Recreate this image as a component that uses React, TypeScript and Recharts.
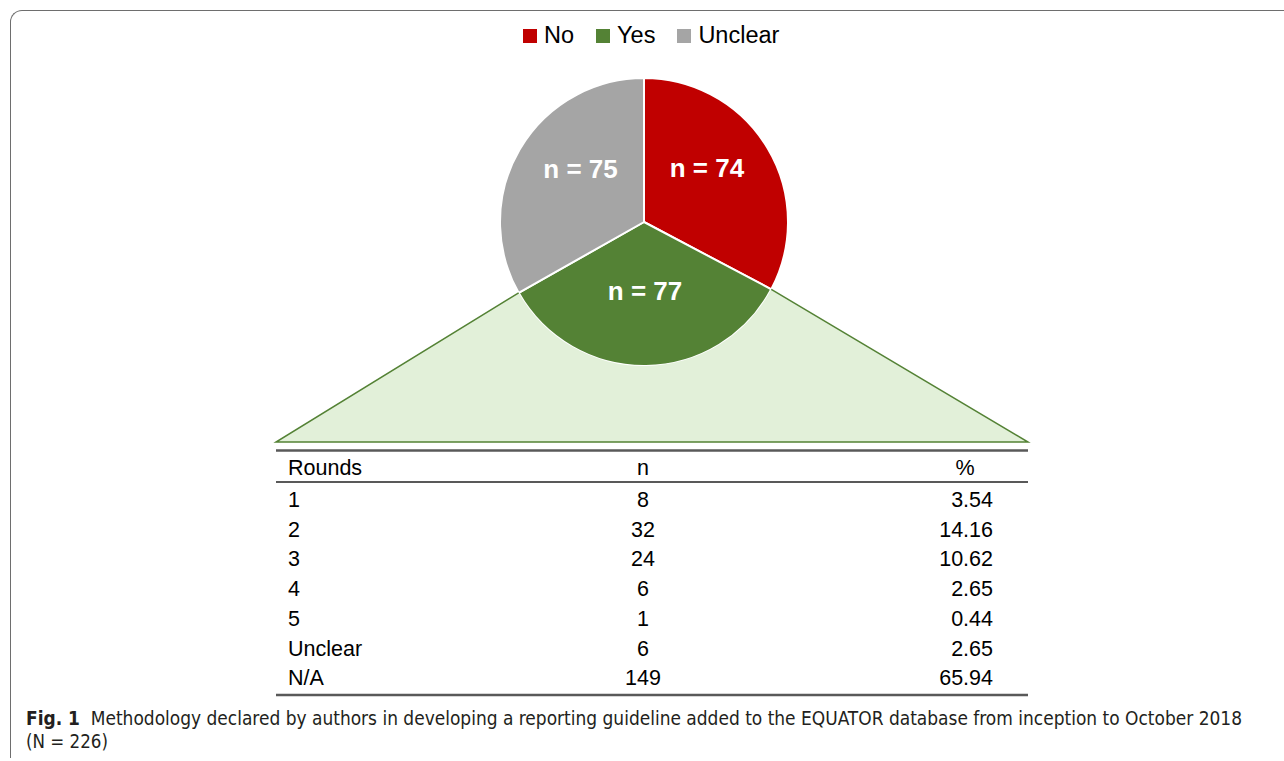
import React from 'react';
import { PieChart, Pie, Cell, Legend } from 'recharts';

// pie: methodology declared
const methodNames = ['No', 'Yes', 'Unclear'];
const methodCounts = [74, 77, 75];
const methodColors = ['#C00000', '#548235', '#A5A5A5'];

// table: number of rounds in the Delphi surveys
const tableTitle = 'Number of rounds in the Delphi surveys';
const tableHeaders = ['Rounds', 'n', '%'];
const roundLabels = ['1', '2', '3', '4', '5', 'Unclear', 'N/A'];
const roundCounts = [8, 32, 24, 6, 1, 6, 149];
const roundPercents = ['3.54', '14.16', '10.62', '2.65', '0.44', '2.65', '65.94'];

const captionBold = 'Fig. 1';
const captionText = 'Methodology declared by authors in developing a reporting guideline added to the EQUATOR database from inception to October 2018';
const captionLine2 = '(N\u00A0=\u00A0226)';

const pieData = methodNames.map((name, i) => ({ name, value: methodCounts[i] }));

const W = 1284;
const H = 761;
const TABLE_LEFT = 276;
const TABLE_RIGHT = 1028;
const WEDGE_BOTTOM = 442;
const ARIAL = '"Liberation Sans", Arial, sans-serif';
const CAPTION_FONT = '"Liberation Sans Narrow", "DejaVu Sans Condensed", "Open Sans", sans-serif';
const RAD = Math.PI / 180;

const polar = (cx: number, cy: number, r: number, angle: number) => ({
    x: cx + Math.cos(-angle * RAD) * r,
    y: cy + Math.sin(-angle * RAD) * r,
});

const renderLabel = (props: any) => {
    const { cx, cy, midAngle, outerRadius, startAngle, endAngle, index, value } = props;
    const x = cx + Math.cos(-midAngle * RAD) * outerRadius * 0.51;
    const y = cy + Math.sin(-midAngle * RAD) * outerRadius * 0.563 - 12;

    // the green wedge that opens from the "Yes" slice down to the table
    let wedge = null;
    if (index === 1) {
        const a = polar(cx, cy, outerRadius, startAngle);
        const b = polar(cx, cy, outerRadius, endAngle);
        wedge = (
            <g>
                <path
                    d={`M${TABLE_RIGHT},${WEDGE_BOTTOM} L${a.x},${a.y} A${outerRadius},${outerRadius} 0 0 1 ${b.x},${b.y} L${TABLE_LEFT},${WEDGE_BOTTOM} Z`}
                    fill="#E2F0D9"
                    stroke="none"
                />
                <polyline
                    points={`${b.x},${b.y} ${TABLE_LEFT},${WEDGE_BOTTOM} ${TABLE_RIGHT},${WEDGE_BOTTOM} ${a.x},${a.y}`}
                    fill="none"
                    stroke="#548235"
                    strokeWidth={1.5}
                />
            </g>
        );
    }

    return (
        <g>
            {wedge}
            <text
                x={x}
                y={y}
                textAnchor="middle"
                dominantBaseline="central"
                fill="#ffffff"
                fontSize={26}
                fontWeight="bold"
                fontFamily={ARIAL}
            >
                n = {value}
            </text>
        </g>
    );
};

const renderLegend = () => (
    <div style={{ display: 'flex', alignItems: 'center', fontFamily: ARIAL, fontSize: 23.5, lineHeight: '23px', color: '#000' }}>
        {methodNames.map((name, i) => (
            <div key={name} style={{ display: 'flex', alignItems: 'center', marginRight: i < methodNames.length - 1 ? 22 : 0 }}>
                <span style={{ width: 14, height: 14, background: methodColors[i], marginRight: 7, display: 'inline-block' }} />
                <span>{name}</span>
            </div>
        ))}
    </div>
);

const RoundsTable = () => {
    const rowY = (i: number) => 507 + i * 29.7;
    return (
        <svg width={W} height={H} style={{ position: 'absolute', left: 0, top: 0 }}>
            <text x={650} y={429} textAnchor="middle" fontSize={24} fontFamily={ARIAL} fill="#000">
                {tableTitle}
            </text>
            <line x1={TABLE_LEFT} x2={TABLE_RIGHT} y1={450.5} y2={450.5} stroke="#595959" strokeWidth={2.5} />
            <line x1={TABLE_LEFT} x2={TABLE_RIGHT} y1={482} y2={482} stroke="#595959" strokeWidth={2} />
            <line x1={TABLE_LEFT} x2={TABLE_RIGHT} y1={695} y2={695} stroke="#595959" strokeWidth={2.5} />
            <g fontSize={21.5} fontFamily={ARIAL} fill="#000">
                <text x={288} y={475}>{tableHeaders[0]}</text>
                <text x={643} y={475} textAnchor="middle">{tableHeaders[1]}</text>
                <text x={965} y={475} textAnchor="middle">{tableHeaders[2]}</text>
                {roundLabels.map((lab, i) => (
                    <g key={lab + i}>
                        <text x={288} y={rowY(i)}>{lab}</text>
                        <text x={643} y={rowY(i)} textAnchor="middle">{roundCounts[i]}</text>
                        <text x={993} y={rowY(i)} textAnchor="end">{roundPercents[i]}</text>
                    </g>
                ))}
            </g>
            <g fontFamily={CAPTION_FONT} fontSize={19} fill="#231F20">
                <text x={26} y={725} textLength={1216} lengthAdjust="spacingAndGlyphs">
                    <tspan fontWeight="bold">{captionBold}</tspan>
                    <tspan>{'\u00A0\u00A0' + captionText}</tspan>
                </text>
                <text x={26} y={748} textLength={82} lengthAdjust="spacingAndGlyphs">{captionLine2}</text>
            </g>
        </svg>
    );
};

export default function App() {
    return (
        <div style={{ position: 'absolute', left: 0, top: 0, width: W, height: H, overflow: 'hidden', background: '#fff' }}>
            <div
                style={{
                    position: 'absolute',
                    left: 10,
                    top: 10,
                    width: W + 20,
                    height: 748,
                    borderTop: '1.5px solid #6e6e6e',
                    borderLeft: '1.5px solid #6e6e6e',
                    borderTopLeftRadius: 12,
                    boxSizing: 'border-box',
                }}
            />
            <RoundsTable />
            <div style={{ position: 'absolute', left: 0, top: 0 }}>
                <PieChart width={W} height={H} margin={{ top: 0, right: 0, bottom: 0, left: 0 }}>
                    <Legend
                        verticalAlign="top"
                        content={renderLegend}
                        wrapperStyle={{ position: 'absolute', top: 24, left: 523, width: 'auto' }}
                    />
                    <Pie
                        data={pieData}
                        dataKey="value"
                        nameKey="name"
                        cx={644}
                        cy={199}
                        outerRadius={144}
                        startAngle={90}
                        endAngle={-270}
                        stroke="#ffffff"
                        strokeWidth={2}
                        label={renderLabel}
                        labelLine={false}
                        isAnimationActive={false}
                    >
                        {pieData.map((d, i) => (
                            <Cell key={d.name} fill={methodColors[i]} />
                        ))}
                    </Pie>
                </PieChart>
            </div>
        </div>
    );
}
